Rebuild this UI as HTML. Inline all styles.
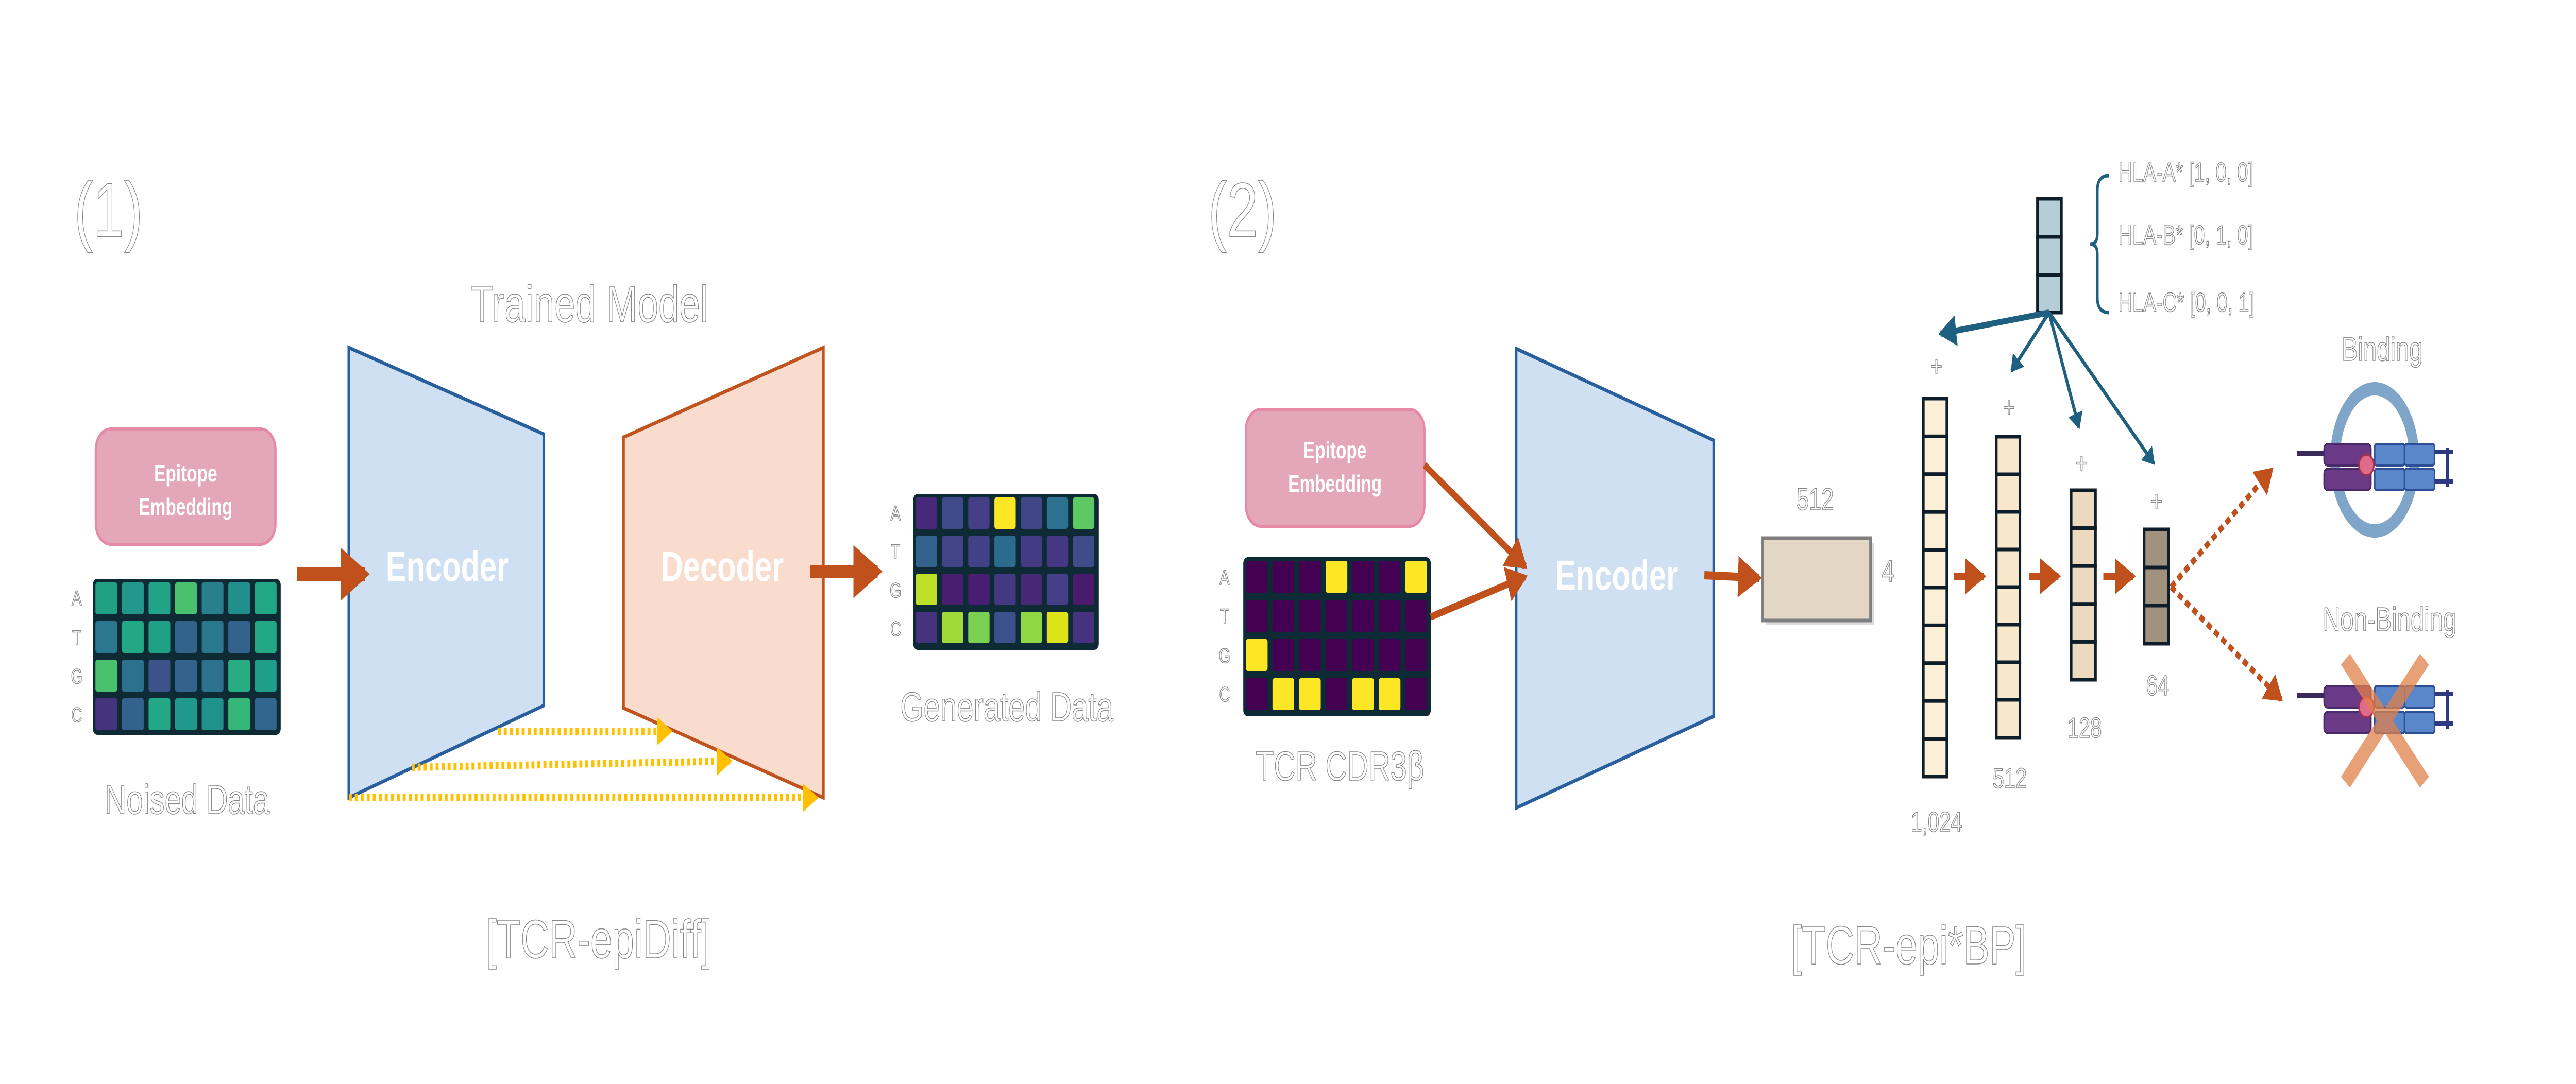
<!DOCTYPE html>
<html><head><meta charset="utf-8"><style>
html,body{margin:0;padding:0;background:#fff;overflow:hidden;width:100vw;height:100vh;}
svg{display:block;width:100vw;height:100vh;}
.t{font-family:"Liberation Sans",sans-serif;fill:#fff;stroke:#888;stroke-width:1.5;text-anchor:middle;}
.w{font-family:"Liberation Sans",sans-serif;fill:#fff;text-anchor:middle;font-weight:bold;}
</style></head><body>
<svg viewBox="0 0 6883 2105" preserveAspectRatio="none" xmlns="http://www.w3.org/2000/svg">
<defs>
<marker id="ao" markerWidth="4" markerHeight="4" refX="2.5" refY="2" orient="auto" markerUnits="strokeWidth"><path d="M0,0 L3,2 L0,4 z" fill="#c0501c"/></marker>
<marker id="ay" markerWidth="4" markerHeight="4" refX="2.5" refY="2" orient="auto" markerUnits="strokeWidth"><path d="M0,0 L3,2 L0,4 z" fill="#ffc000"/></marker>
<marker id="ab" markerWidth="5" markerHeight="5" refX="3.5" refY="2.5" orient="auto" markerUnits="strokeWidth"><path d="M0,0 L4,2.5 L0,5 z" fill="#1f5f80"/></marker>
<marker id="ad" markerWidth="5" markerHeight="5" refX="3.5" refY="2.5" orient="auto" markerUnits="strokeWidth"><path d="M0,0 L4,2.5 L0,5 z" fill="#c0501c"/></marker>
</defs>

<text class="t" x="290" y="420" font-size="150" dominant-baseline="middle">(1)</text>
<text class="t" x="1575" y="625" font-size="100">Trained Model</text>

<polygon points="932,675 1453,843 1453,1370 932,1549" fill="#cfe0f3" stroke="#2a5f9e" stroke-width="7"/>
<polygon points="2200,675 1666,849 1666,1375 2200,1549" fill="#f9dccd" stroke="#c0531e" stroke-width="7"/>
<text class="w" x="1195" y="1128" font-size="82">Encoder</text>
<text class="w" x="1930" y="1128" font-size="82">Decoder</text>

<rect x="256" y="833" width="480" height="224" rx="40" fill="#e3a7b8" stroke="#e58aa6" stroke-width="6"/>
<text class="w" x="496" y="935" font-size="46" font-weight="normal">Epitope</text>
<text class="w" x="496" y="1000" font-size="46" font-weight="normal">Embedding</text>

<rect x="248" y="1124" width="502" height="303" rx="12" fill="#0e2a35"/>
<g stroke="#0e2a35" stroke-width="6">
<rect x="252" y="1128" width="64" height="68" rx="8" fill="#21a083"/><rect x="323" y="1128" width="64" height="68" rx="8" fill="#23988a"/><rect x="394" y="1128" width="64" height="68" rx="8" fill="#20a386"/><rect x="465" y="1128" width="64" height="68" rx="8" fill="#48c06e"/><rect x="536" y="1128" width="64" height="68" rx="8" fill="#2a7f8e"/><rect x="607" y="1128" width="64" height="68" rx="8" fill="#21908d"/><rect x="678" y="1128" width="64" height="68" rx="8" fill="#22a785"/>
<rect x="252" y="1203" width="64" height="68" rx="8" fill="#2a788e"/><rect x="323" y="1203" width="64" height="68" rx="8" fill="#22a884"/><rect x="394" y="1203" width="64" height="68" rx="8" fill="#1fa187"/><rect x="465" y="1203" width="64" height="68" rx="8" fill="#33638d"/><rect x="536" y="1203" width="64" height="68" rx="8" fill="#2a788e"/><rect x="607" y="1203" width="64" height="68" rx="8" fill="#33638d"/><rect x="678" y="1203" width="64" height="68" rx="8" fill="#22a884"/>
<rect x="252" y="1278" width="64" height="68" rx="8" fill="#4ac16d"/><rect x="323" y="1278" width="64" height="68" rx="8" fill="#2c728e"/><rect x="394" y="1278" width="64" height="68" rx="8" fill="#3b528b"/><rect x="465" y="1278" width="64" height="68" rx="8" fill="#33638d"/><rect x="536" y="1278" width="64" height="68" rx="8" fill="#2c728e"/><rect x="607" y="1278" width="64" height="68" rx="8" fill="#27ad81"/><rect x="678" y="1278" width="64" height="68" rx="8" fill="#1f9e89"/>
<rect x="252" y="1353" width="64" height="68" rx="8" fill="#46337e"/><rect x="323" y="1353" width="64" height="68" rx="8" fill="#33638d"/><rect x="394" y="1353" width="64" height="68" rx="8" fill="#22a884"/><rect x="465" y="1353" width="64" height="68" rx="8" fill="#1f9a8a"/><rect x="536" y="1353" width="64" height="68" rx="8" fill="#21918c"/><rect x="607" y="1353" width="64" height="68" rx="8" fill="#35b779"/><rect x="678" y="1353" width="64" height="68" rx="8" fill="#31668e"/>
</g>
<g class="t" font-size="40"><text x="205" y="1175">A</text><text x="205" y="1252">T</text><text x="205" y="1327">G</text><text x="205" y="1402">C</text></g>
<text class="t" x="500" y="1580" font-size="80">Noised Data</text>

<line x1="794" y1="1115" x2="975" y2="1115" stroke="#c0501c" stroke-width="26" marker-end="url(#ao)"/>
<line x1="2164" y1="1110" x2="2345" y2="1110" stroke="#c0501c" stroke-width="26" marker-end="url(#ao)"/>

<g stroke="#ffc000" stroke-width="14" stroke-dasharray="8,8" fill="none">
<line x1="1330" y1="1420" x2="1790" y2="1420" marker-end="url(#ay)"/>
<line x1="1100" y1="1490" x2="1950" y2="1478" marker-end="url(#ay)"/>
<line x1="932" y1="1549" x2="2180" y2="1549" marker-end="url(#ay)"/>
</g>

<rect x="2440" y="959" width="496" height="303" rx="12" fill="#0e2a35"/>
<g stroke="#0e2a35" stroke-width="6">
<rect x="2444" y="963" width="63" height="67" rx="8" fill="#482878"/><rect x="2514" y="963" width="63" height="67" rx="8" fill="#3e4a89"/><rect x="2584" y="963" width="63" height="67" rx="8" fill="#433e85"/><rect x="2654" y="963" width="63" height="67" rx="8" fill="#fde725"/><rect x="2724" y="963" width="63" height="67" rx="8" fill="#3f4788"/><rect x="2794" y="963" width="63" height="67" rx="8" fill="#2c728e"/><rect x="2864" y="963" width="63" height="67" rx="8" fill="#5ec962"/>
<rect x="2444" y="1037" width="63" height="67" rx="8" fill="#33638d"/><rect x="2514" y="1037" width="63" height="67" rx="8" fill="#414487"/><rect x="2584" y="1037" width="63" height="67" rx="8" fill="#424086"/><rect x="2654" y="1037" width="63" height="67" rx="8" fill="#2c6b8e"/><rect x="2724" y="1037" width="63" height="67" rx="8" fill="#443a83"/><rect x="2794" y="1037" width="63" height="67" rx="8" fill="#453781"/><rect x="2864" y="1037" width="63" height="67" rx="8" fill="#3e4c8a"/>
<rect x="2444" y="1111" width="63" height="67" rx="8" fill="#bddf26"/><rect x="2514" y="1111" width="63" height="67" rx="8" fill="#481f70"/><rect x="2584" y="1111" width="63" height="67" rx="8" fill="#471e71"/><rect x="2654" y="1111" width="63" height="67" rx="8" fill="#453882"/><rect x="2724" y="1111" width="63" height="67" rx="8" fill="#472877"/><rect x="2794" y="1111" width="63" height="67" rx="8" fill="#433e85"/><rect x="2864" y="1111" width="63" height="67" rx="8" fill="#481b6d"/>
<rect x="2444" y="1185" width="63" height="67" rx="8" fill="#46337e"/><rect x="2514" y="1185" width="63" height="67" rx="8" fill="#a0da39"/><rect x="2584" y="1185" width="63" height="67" rx="8" fill="#7ad151"/><rect x="2654" y="1185" width="63" height="67" rx="8" fill="#3b518b"/><rect x="2724" y="1185" width="63" height="67" rx="8" fill="#8fd744"/><rect x="2794" y="1185" width="63" height="67" rx="8" fill="#dde318"/><rect x="2864" y="1185" width="63" height="67" rx="8" fill="#46327e"/>
</g>
<g class="t" font-size="40"><text x="2393" y="1010">A</text><text x="2393" y="1085">T</text><text x="2393" y="1160">G</text><text x="2393" y="1235">C</text></g>
<text class="t" x="2690" y="1400" font-size="80">Generated Data</text>
<text class="t" x="1600" y="1860" font-size="105">[TCR-epiDiff]</text>

<text class="t" x="3320" y="420" font-size="150" dominant-baseline="middle">(2)</text>

<rect x="3329" y="795" width="477" height="227" rx="40" fill="#e3a7b8" stroke="#e58aa6" stroke-width="6"/>
<text class="w" x="3567" y="890" font-size="46" font-weight="normal">Epitope</text>
<text class="w" x="3567" y="955" font-size="46" font-weight="normal">Embedding</text>

<rect x="3322" y="1082" width="501" height="309" rx="12" fill="#0e2a35"/>
<g stroke="#0e2a35" stroke-width="6">
<g fill="#440154">
<rect x="3326" y="1086" width="64" height="68" rx="8"/><rect x="3397" y="1086" width="64" height="68" rx="8"/><rect x="3468" y="1086" width="64" height="68" rx="8"/><rect x="3539" y="1086" width="64" height="68" rx="8" fill="#fde725"/><rect x="3610" y="1086" width="64" height="68" rx="8"/><rect x="3681" y="1086" width="64" height="68" rx="8"/><rect x="3752" y="1086" width="64" height="68" rx="8" fill="#fde725"/>
<rect x="3326" y="1162" width="64" height="68" rx="8"/><rect x="3397" y="1162" width="64" height="68" rx="8"/><rect x="3468" y="1162" width="64" height="68" rx="8"/><rect x="3539" y="1162" width="64" height="68" rx="8"/><rect x="3610" y="1162" width="64" height="68" rx="8"/><rect x="3681" y="1162" width="64" height="68" rx="8"/><rect x="3752" y="1162" width="64" height="68" rx="8"/>
<rect x="3326" y="1238" width="64" height="68" rx="8" fill="#fde725"/><rect x="3397" y="1238" width="64" height="68" rx="8"/><rect x="3468" y="1238" width="64" height="68" rx="8"/><rect x="3539" y="1238" width="64" height="68" rx="8"/><rect x="3610" y="1238" width="64" height="68" rx="8"/><rect x="3681" y="1238" width="64" height="68" rx="8"/><rect x="3752" y="1238" width="64" height="68" rx="8"/>
<rect x="3326" y="1314" width="64" height="68" rx="8"/><rect x="3397" y="1314" width="64" height="68" rx="8" fill="#fde725"/><rect x="3468" y="1314" width="64" height="68" rx="8" fill="#fde725"/><rect x="3539" y="1314" width="64" height="68" rx="8"/><rect x="3610" y="1314" width="64" height="68" rx="8" fill="#fde725"/><rect x="3681" y="1314" width="64" height="68" rx="8" fill="#fde725"/><rect x="3752" y="1314" width="64" height="68" rx="8"/>
</g></g>
<g class="t" font-size="40"><text x="3272" y="1135">A</text><text x="3272" y="1210">T</text><text x="3272" y="1287">G</text><text x="3272" y="1362">C</text></g>
<text class="t" x="3580" y="1515" font-size="80">TCR CDR3β</text>

<polygon points="4051,677 4579,855 4579,1391 4051,1569" fill="#cfe0f3" stroke="#2a5f9e" stroke-width="7"/>
<text class="w" x="4320" y="1145" font-size="82">Encoder</text>

<line x1="3806" y1="903" x2="4075" y2="1100" stroke="#c0501c" stroke-width="14" marker-end="url(#ad)"/>
<line x1="3823" y1="1198" x2="4075" y2="1120" stroke="#c0501c" stroke-width="14" marker-end="url(#ad)"/>
<line x1="4554" y1="1117" x2="4700" y2="1122" stroke="#c0501c" stroke-width="16" marker-end="url(#ad)"/>

<rect x="4718" y="1054" width="290" height="160" fill="#bbb" opacity="0.5"/>
<rect x="4709" y="1045" width="289" height="160" fill="#e3d6c4" stroke="#7f7f7f" stroke-width="7"/>
<text class="t" x="4850" y="990" font-size="60">512</text>
<text class="t" x="5045" y="1130" font-size="60">4</text>

<g stroke="#0e1d2a" stroke-width="7">
<g fill="#fbefd6">
<rect x="5139" y="774" width="63" height="73.4"/><rect x="5139" y="847.4" width="63" height="73.4"/><rect x="5139" y="920.8" width="63" height="73.4"/><rect x="5139" y="994.2" width="63" height="73.4"/><rect x="5139" y="1067.6" width="63" height="73.4"/><rect x="5139" y="1141" width="63" height="73.4"/><rect x="5139" y="1214.4" width="63" height="73.4"/><rect x="5139" y="1287.8" width="63" height="73.4"/><rect x="5139" y="1361.2" width="63" height="73.4"/><rect x="5139" y="1434.6" width="63" height="73.4"/>
</g>
<g fill="#f7e8cc">
<rect x="5334" y="848" width="63" height="73"/><rect x="5334" y="921" width="63" height="73"/><rect x="5334" y="994" width="63" height="73"/><rect x="5334" y="1067" width="63" height="73"/><rect x="5334" y="1140" width="63" height="73"/><rect x="5334" y="1213" width="63" height="73"/><rect x="5334" y="1286" width="63" height="73"/><rect x="5334" y="1359" width="63" height="74"/>
</g>
<g fill="#ecd9bf">
<rect x="5534" y="952" width="65" height="73.6"/><rect x="5534" y="1025.6" width="65" height="73.6"/><rect x="5534" y="1099.2" width="65" height="73.6"/><rect x="5534" y="1172.8" width="65" height="73.6"/><rect x="5534" y="1246.4" width="65" height="73.6"/>
</g>
<g fill="#a0927c">
<rect x="5729" y="1028" width="65" height="74"/><rect x="5729" y="1102" width="65" height="74"/><rect x="5729" y="1176" width="65" height="74"/>
</g>
<g fill="#b5cdd5">
<rect x="5444" y="386" width="64" height="74"/><rect x="5444" y="460" width="64" height="74"/><rect x="5444" y="534" width="64" height="73"/>
</g>
</g>
<g stroke="#c0501c" stroke-width="14">
<line x1="5221" y1="1119" x2="5300" y2="1119" marker-end="url(#ad)"/>
<line x1="5421" y1="1119" x2="5500" y2="1119" marker-end="url(#ad)"/>
<line x1="5620" y1="1119" x2="5700" y2="1119" marker-end="url(#ad)"/>
</g>
<g class="t" font-size="55">
<text x="5174" y="1615">1,024</text><text x="5370" y="1530">512</text><text x="5570" y="1432">128</text><text x="5765" y="1350">64</text>
<text x="5174" y="730">+</text><text x="5368" y="810">+</text><text x="5562" y="918">+</text><text x="5762" y="992">+</text>
</g>

<path d="M5635,341 Q5604,341 5604,370 L5604,455 Q5604,474 5585,474 Q5604,474 5604,493 L5604,578 Q5604,607 5635,607" fill="none" stroke="#1f5f80" stroke-width="7"/>
<g class="t" font-size="52" style="text-anchor:start">
<text x="5660" y="352">HLA-A* [1, 0, 0]</text>
<text x="5660" y="474">HLA-B* [0, 1, 0]</text>
<text x="5660" y="605">HLA-C* [0, 0, 1]</text>
</g>

<g stroke="#1f5f80" fill="none">
<line x1="5475" y1="607" x2="5185" y2="648" stroke-width="12" marker-end="url(#ab)"/>
<line x1="5475" y1="607" x2="5375" y2="720" stroke-width="8" marker-end="url(#ab)"/>
<line x1="5475" y1="607" x2="5555" y2="830" stroke-width="8" marker-end="url(#ab)"/>
<line x1="5475" y1="607" x2="5755" y2="900" stroke-width="8" marker-end="url(#ab)"/>
</g>

<g stroke="#c0501c" stroke-width="12" stroke-dasharray="14,10" fill="none">
<line x1="5801" y1="1140" x2="6070" y2="912" marker-end="url(#ad)"/>
<line x1="5801" y1="1140" x2="6095" y2="1358" marker-end="url(#ad)"/>
</g>

<text class="t" x="6365" y="700" font-size="65">Binding</text>
<text class="t" x="6385" y="1225" font-size="65">Non-Binding</text>

<ellipse cx="6345" cy="893" rx="106" ry="138" fill="none" stroke="#7fa5c9" stroke-width="26"/>
<g>
<line x1="6137" y1="880" x2="6210" y2="880" stroke="#3a2a5a" stroke-width="10"/>
<rect x="6210" y="862" width="125" height="42" rx="10" fill="#6b3a86" stroke="#4a2a6a" stroke-width="4"/>
<rect x="6210" y="910" width="125" height="42" rx="10" fill="#6b3a86" stroke="#4a2a6a" stroke-width="4"/>
<rect x="6345" y="862" width="80" height="42" rx="6" fill="#5a87c9" stroke="#2d4f96" stroke-width="4"/>
<rect x="6425" y="862" width="80" height="42" rx="6" fill="#5a87c9" stroke="#2d4f96" stroke-width="4"/>
<rect x="6345" y="910" width="80" height="42" rx="6" fill="#5a87c9" stroke="#2d4f96" stroke-width="4"/>
<rect x="6425" y="910" width="80" height="42" rx="6" fill="#5a87c9" stroke="#2d4f96" stroke-width="4"/>
<path d="M6505,878 L6555,878 M6505,935 L6555,935 M6540,870 L6540,945" stroke="#2d3a80" stroke-width="8"/>
<circle cx="6323" cy="903" r="20" fill="#e06a8a" stroke="#a03050" stroke-width="4"/>
</g>
<g>
<line x1="6137" y1="1350" x2="6210" y2="1350" stroke="#3a2a5a" stroke-width="10"/>
<rect x="6210" y="1332" width="125" height="42" rx="10" fill="#6b3a86" stroke="#4a2a6a" stroke-width="4"/>
<rect x="6210" y="1382" width="125" height="42" rx="10" fill="#6b3a86" stroke="#4a2a6a" stroke-width="4"/>
<rect x="6345" y="1332" width="80" height="42" rx="6" fill="#5a87c9" stroke="#2d4f96" stroke-width="4"/>
<rect x="6425" y="1332" width="80" height="42" rx="6" fill="#5a87c9" stroke="#2d4f96" stroke-width="4"/>
<rect x="6345" y="1382" width="80" height="42" rx="6" fill="#5a87c9" stroke="#2d4f96" stroke-width="4"/>
<rect x="6425" y="1382" width="80" height="42" rx="6" fill="#5a87c9" stroke="#2d4f96" stroke-width="4"/>
<path d="M6505,1348 L6555,1348 M6505,1405 L6555,1405 M6540,1340 L6540,1415" stroke="#2d3a80" stroke-width="8"/>
<circle cx="6323" cy="1373" r="20" fill="#e06a8a" stroke="#a03050" stroke-width="4"/>
<path d="M6267,1280 L6478,1519 M6478,1280 L6267,1519" stroke="#e0804a" stroke-opacity="0.75" stroke-width="32"/>
</g>

<text class="t" x="5100" y="1872" font-size="105">[TCR-epi*BP]</text>
</svg>
</body></html>
